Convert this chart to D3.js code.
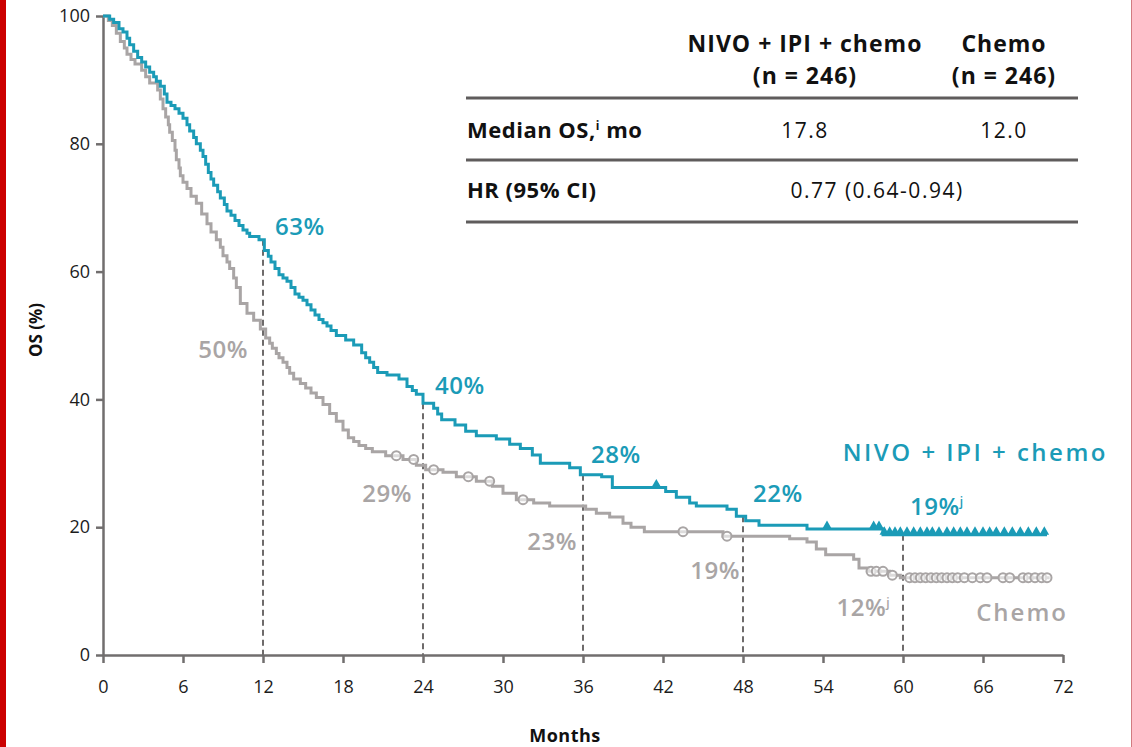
<!DOCTYPE html>
<html>
<head>
<meta charset="utf-8">
<script src="https://cdn.jsdelivr.net/npm/d3@7"></script>
<style>
  html, body { margin: 0; padding: 0; background: #fff; }
  svg { display: block; font-family: "Open Sans", "DejaVu Sans", sans-serif; }
</style>
</head>
<body>
<svg id="chart"></svg>
<script>
// Kaplan-Meier steps (month, OS %)
const nivoMonths = [0, 0.5, 0.8, 1.2, 1.5, 1.8, 2.0, 2.3, 2.6, 2.9, 3.2, 3.5, 3.8, 4.0, 4.3, 4.6, 4.8, 5.1, 5.4, 5.7, 6.0, 6.3, 6.5, 6.8, 7.0, 7.3, 7.5, 7.7, 7.9, 8.1, 8.3, 8.6, 8.8, 9.1, 9.3, 9.6, 9.9, 10.2, 10.5, 10.8, 11.0, 11.7, 12.1, 12.4, 12.6, 12.9, 13.2, 13.5, 13.8, 14.1, 14.4, 14.7, 15.0, 15.3, 15.6, 15.9, 16.2, 16.5, 16.8, 17.1, 17.5, 18.2, 18.8, 19.4, 19.7, 20.0, 20.3, 20.6, 21.3, 22.2, 22.8, 23.2, 23.5, 24.0, 24.8, 25.1, 25.4, 26.4, 27.2, 28.0, 29.5, 30.5, 31.3, 32.2, 32.8, 35.0, 35.8, 37.4, 38.2, 42.2, 43.0, 44.0, 44.5, 46.8, 47.5, 48.2, 49.2, 52.8, 58.5, 70.8];
const nivoOS = [100, 99.5, 99, 98, 97.5, 96.5, 95.5, 94.5, 93.5, 92.8, 92, 91.2, 90.5, 89.8, 89, 87.8, 86.5, 86, 85.5, 84.8, 84, 83, 82, 81, 80, 79, 78, 76.8, 75.5, 74.5, 73.5, 72.5, 71.5, 70.5, 69.5, 68.8, 68, 67.2, 66.5, 66, 65.5, 65, 63.3, 62.4, 61.5, 60.5, 59.5, 59, 58.5, 57.5, 56.5, 56, 55.5, 54.8, 54, 53.2, 52.5, 52, 51.5, 50.8, 50, 49.3, 48.5, 47.3, 46.5, 45.8, 45, 44.2, 43.8, 43.2, 42, 41.4, 40.8, 39.4, 38.6, 37.7, 36.8, 36, 35, 34.3, 33.8, 33, 32.3, 31.3, 30, 29.3, 28.2, 27.9, 26.2, 25.6, 24.7, 23.8, 23.3, 22.8, 21.7, 21.0, 20.3, 19.7, 18.8, 18.8];

const chemoMonths = [0, 0.4, 0.7, 1.0, 1.3, 1.6, 1.8, 2.1, 2.4, 2.9, 3.2, 3.5, 4.1, 4.3, 4.5, 4.7, 4.9, 5.0, 5.2, 5.4, 5.5, 5.7, 5.8, 6.0, 6.3, 6.6, 7.0, 7.4, 7.8, 8.1, 8.5, 8.8, 9.0, 9.3, 9.5, 9.8, 10.0, 10.3, 10.8, 11.3, 11.8, 12.2, 12.5, 12.7, 13.0, 13.2, 13.5, 13.8, 14.0, 14.3, 14.8, 15.2, 15.6, 16.0, 16.5, 17.0, 17.5, 18.0, 18.4, 18.8, 19.2, 19.7, 20.2, 21.2, 22.5, 23.5, 24.2, 25.5, 26.5, 28.0, 29.2, 30.0, 31.0, 32.3, 33.5, 36.2, 37.0, 38.0, 39.0, 39.6, 40.6, 46.5, 51.5, 52.8, 53.5, 54.2, 56.3, 56.7, 57.4, 59.0, 59.8, 71.0];
const chemoOS = [100, 99.3, 98.5, 97.3, 96, 95, 94, 93.2, 92.5, 91.5, 90.5, 89.5, 88.4, 87, 85.5, 84.2, 83, 81.8, 80.5, 79, 77.5, 76.2, 75, 74, 73, 71.8, 70.7, 69, 67.5, 66.2, 65, 63.8, 62.5, 61.5, 60.5, 59, 57.5, 55, 53.5, 52.4, 51, 49.6, 48.8, 48, 47.2, 46.5, 45.8, 45, 44.1, 43.2, 42.5, 41.8, 41, 40.3, 39.2, 37.8, 36.6, 35.2, 34.0, 33.4, 32.8, 32.3, 31.8, 31.2, 30.6, 29.7, 29.0, 28.6, 27.9, 27.2, 26.4, 25.3, 24.3, 23.8, 23.3, 22.8, 22.2, 21.6, 20.6, 20.0, 19.3, 18.6, 18.2, 17.7, 16.6, 15.7, 15.0, 13.6, 13.1, 12.5, 12.1, 12.1];

// censored patients
const nivoCensor = [41.5, 54.3, 57.8, 58.2, 58.6, 59.0, 59.4, 59.8, 60.3, 60.8, 61.3, 61.8, 62.2, 62.7, 63.3, 63.8, 64.3, 64.8, 65.4, 66.0, 66.5, 67.0, 67.6, 68.2, 68.8, 69.4, 70.0, 70.6];
const chemoCensor = [22.0, 23.3, 24.8, 27.4, 29.0, 31.5, 43.5, 46.8, 57.6, 58.0, 58.5, 59.2, 60.5, 60.9, 61.3, 61.7, 62.1, 62.5, 62.9, 63.3, 63.7, 64.1, 64.6, 65.2, 65.8, 66.3, 67.5, 68.0, 69.0, 69.4, 69.9, 70.4, 70.8];

// landmark rates
const landmarkMonths = [12, 24, 36, 48, 60];
const nivoLandmarks = ["63%", "40%", "28%", "22%", "19%"];
const chemoLandmarks = ["50%", "29%", "23%", "19%", "12%"];
const landmarkNotes = ["", "", "", "", "j"];

const xTicks = [0, 6, 12, 18, 24, 30, 36, 42, 48, 54, 60, 66, 72];
const yTicks = [0, 20, 40, 60, 80, 100];

const tableHeads = ["NIVO + IPI + chemo", "Chemo"];
const tableN = ["(n = 246)", "(n = 246)"];
const medianOS = ["17.8", "12.0"];
const hazardRatio = "0.77 (0.64-0.94)";

const teal = "#1b9bb7";
const grey = "#a9a5a5";
const axisGrey = "#716e6e";

const width = 1132, height = 747;
const svg = d3.select("#chart").attr("width", width).attr("height", height);

// page edges
svg.append("rect").attr("x", 0).attr("y", 0).attr("width", 6).attr("height", height).attr("fill", "#cc0000");
svg.append("rect").attr("x", 1131).attr("y", 0).attr("width", 1).attr("height", height).attr("fill", "#d27b80");

const x = d3.scaleLinear().domain([0, 72]).range([103, 1063]);
const y = d3.scaleLinear().domain([0, 100]).range([655, 16]);

const valueAt = (months, os, m) => os[Math.max(d3.bisectRight(months, m) - 1, 0)];

// dashed landmark lines
svg.append("g").selectAll("line")
  .data(landmarkMonths)
  .join("line")
  .attr("x1", d => x(d)).attr("x2", d => x(d))
  .attr("y1", d => y(valueAt(nivoMonths, nivoOS, d)))
  .attr("y2", y(0))
  .attr("stroke", "#6e6b6b")
  .attr("stroke-width", 2)
  .attr("stroke-dasharray", "6,4");

// axes
const yAxis = d3.axisLeft(y).tickValues(yTicks).tickSize(7).tickSizeOuter(0).tickPadding(6);
const xAxis = d3.axisBottom(x).tickValues(xTicks).tickSize(8).tickSizeOuter(0).tickPadding(17);

const yAxisGroup = svg.append("g")
  .attr("transform", `translate(${x(0)},0)`)
  .call(yAxis);

const xAxisGroup = svg.append("g")
  .attr("transform", `translate(0,${y(0)})`)
  .call(xAxis);

[yAxisGroup, xAxisGroup].forEach(g => {
  g.select(".domain").attr("stroke", axisGrey).attr("stroke-width", 2.5);
  g.selectAll(".tick line").attr("stroke", axisGrey).attr("stroke-width", 2.5);
  g.selectAll(".tick text").attr("fill", "#1c1c1c").style("font-size", "18px")
    .style("font-family", "'Open Sans', sans-serif");
});

svg.append("text")
  .attr("x", 565).attr("y", 742)
  .attr("text-anchor", "middle")
  .style("font-size", "18px").style("font-weight", 700).style("letter-spacing", "0.5px")
  .attr("fill", "#111")
  .text("Months");

svg.append("text")
  .attr("transform", `translate(42,330) rotate(-90)`)
  .attr("text-anchor", "middle")
  .style("font-size", "17px").style("font-weight", 700).attr("fill", "#111")
  .text("OS (%)");

// curves
const line = d3.line()
  .x(d => x(d[0]))
  .y(d => y(d[1]))
  .curve(d3.curveStepAfter);

svg.append("path")
  .datum(d3.zip(chemoMonths, chemoOS))
  .attr("d", line)
  .attr("fill", "none").attr("stroke", grey).attr("stroke-width", 3);

svg.append("path")
  .datum(d3.zip(nivoMonths, nivoOS))
  .attr("d", line)
  .attr("fill", "none").attr("stroke", teal).attr("stroke-width", 3);

// censor marks
svg.append("g").selectAll("circle")
  .data(chemoCensor)
  .join("circle")
  .attr("cx", d => x(d))
  .attr("cy", d => y(valueAt(chemoMonths, chemoOS, d)))
  .attr("r", 4.5)
  .attr("fill", "#fff").attr("fill-opacity", 0.6)
  .attr("stroke", grey).attr("stroke-width", 2);

const tri = d3.symbol().type(d3.symbolTriangle).size(40);
svg.append("g").selectAll("path")
  .data(nivoCensor)
  .join("path")
  .attr("transform", d => `translate(${x(d)},${y(valueAt(nivoMonths, nivoOS, d)) - 3})`)
  .attr("d", tri)
  .attr("fill", teal);

// landmark labels (pixel offsets from the landmark point)
const nivoLabelDx = [12, 12, 8, 10, 7];
const nivoLabelDy = [-13, -18, -20, -23, -29];
const chemoLabelDx = [-15, -11, -6, -3, -13];
const chemoLabelDy = [20, 28, 35, 34, 30];

const labelFont = sel => sel
  .attr("dy", "0.36em")
  .style("font-size", "24px").style("font-weight", 600).style("letter-spacing", "0.5px");

const nivoLab = svg.append("g").selectAll("text")
  .data(landmarkMonths)
  .join("text")
  .attr("x", (d, i) => x(d) + nivoLabelDx[i])
  .attr("y", (d, i) => y(valueAt(nivoMonths, nivoOS, d)) + nivoLabelDy[i])
  .attr("fill", teal)
  .call(labelFont);
nivoLab.append("tspan").text((d, i) => nivoLandmarks[i]);
nivoLab.append("tspan")
  .attr("dy", "-9").style("font-size", "12px")
  .text((d, i) => landmarkNotes[i]);

const chemoLab = svg.append("g").selectAll("text")
  .data(landmarkMonths)
  .join("text")
  .attr("x", (d, i) => x(d) + chemoLabelDx[i])
  .attr("y", (d, i) => y(valueAt(chemoMonths, chemoOS, d)) + chemoLabelDy[i])
  .attr("text-anchor", "end")
  .attr("fill", grey)
  .call(labelFont);
chemoLab.append("tspan").text((d, i) => chemoLandmarks[i]);
chemoLab.append("tspan")
  .attr("dy", "-9").style("font-size", "12px")
  .text((d, i) => landmarkNotes[i]);

// series names
svg.append("text")
  .attr("x", 1108).attr("y", 452).attr("dy", "0.36em")
  .attr("text-anchor", "end")
  .attr("fill", teal).style("font-size", "24px").style("font-weight", 600).style("letter-spacing", "2.5px")
  .text(tableHeads[0]);

svg.append("text")
  .attr("x", 1068).attr("y", 612).attr("dy", "0.36em")
  .attr("text-anchor", "end")
  .attr("fill", grey).style("font-size", "24px").style("font-weight", 600).style("letter-spacing", "2px")
  .text(tableHeads[1]);

// summary table
const table = svg.append("g").attr("fill", "#111");
const colX = [805, 1004];

tableHeads.forEach((h, i) => {
  table.append("text").attr("x", colX[i]).attr("y", 44).attr("dy", "0.36em")
    .attr("text-anchor", "middle").style("font-size", "23px").style("font-weight", 700)
    .style("letter-spacing", "1px")
    .text(h);
  table.append("text").attr("x", colX[i]).attr("y", 76).attr("dy", "0.36em")
    .attr("text-anchor", "middle").style("font-size", "23px").style("font-weight", 700)
    .style("letter-spacing", "1px")
    .text(tableN[i]);
  table.append("text").attr("x", colX[i]).attr("y", 130).attr("dy", "0.36em")
    .attr("text-anchor", "middle").style("font-size", "21px").style("letter-spacing", "1.5px")
    .text(medianOS[i]);
});

const rowLabel = table.append("text").attr("x", 467).attr("y", 130).attr("dy", "0.36em")
  .style("font-size", "22px").style("font-weight", 700).style("letter-spacing", "0.5px");
rowLabel.append("tspan").text("Median OS,");
rowLabel.append("tspan").attr("dy", "-8").style("font-size", "12px").text("i");
rowLabel.append("tspan").attr("dy", "8").text(" mo");

table.append("text").attr("x", 467).attr("y", 190).attr("dy", "0.36em")
  .style("font-size", "22px").style("font-weight", 700).style("letter-spacing", "0.5px")
  .text("HR (95% CI)");

table.append("text").attr("x", 877).attr("y", 190).attr("dy", "0.36em")
  .attr("text-anchor", "middle").style("font-size", "21px").style("letter-spacing", "1.5px")
  .text(hazardRatio);

table.selectAll("line.rule")
  .data([98, 160, 222])
  .join("line")
  .attr("class", "rule")
  .attr("x1", 466).attr("x2", 1078)
  .attr("y1", d => d).attr("y2", d => d)
  .attr("stroke", "#5f5c5c").attr("stroke-width", 3);
</script>
</body>
</html>
